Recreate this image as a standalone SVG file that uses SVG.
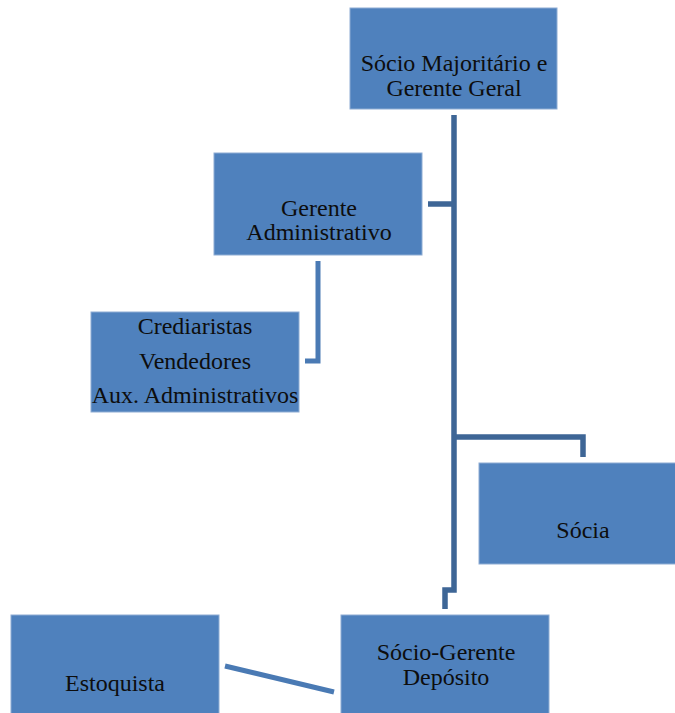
<svg xmlns="http://www.w3.org/2000/svg" width="675" height="713" viewBox="0 0 675 713">
<style>
.box{fill:#4F81BD;stroke:#8EACD3;stroke-width:1}
.t{font-family:'Liberation Serif',serif;font-size:24px;fill:#0d0d0d;text-anchor:middle}
.c1{fill:none;stroke:#3E6696;stroke-width:5.5;stroke-linejoin:miter}
.c2{fill:none;stroke:#4A7AB4;stroke-width:5}
</style>
<rect width="675" height="713" fill="#fff"/>
<g id="connectors">
<path class="c1" d="M454 115 V590 H445 V609"/>
<path class="c1" d="M428 204 H454"/>
<path class="c1" d="M454 437 H583 V457"/>
<path class="c2" d="M318 261 V361 H305"/>
<path class="c2" d="M225 666 L334 692"/>
</g>
<g id="n-socio-majoritario">
<rect class="box" x="350" y="8" width="207" height="101"/>
<text class="t" x="454" y="71">Sócio Majoritário e</text>
<text class="t" x="454" y="96">Gerente Geral</text>
</g>
<g id="n-gerente-administrativo">
<rect class="box" x="214" y="153" width="208" height="102"/>
<text class="t" x="319" y="216">Gerente</text>
<text class="t" x="319" y="240">Administrativo</text>
</g>
<g id="n-equipe-administrativa">
<rect class="box" x="91" y="312" width="208" height="100"/>
<text class="t" x="195" y="334">Crediaristas</text>
<text class="t" x="195" y="369">Vendedores</text>
<text class="t" x="195" y="403">Aux. Administrativos</text>
</g>
<g id="n-socia">
<rect class="box" x="479" y="463" width="208" height="101"/>
<text class="t" x="583" y="538">Sócia</text>
</g>
<g id="n-socio-gerente-deposito">
<rect class="box" x="341" y="615" width="208" height="101"/>
<text class="t" x="446" y="660">Sócio-Gerente</text>
<text class="t" x="446" y="685">Depósito</text>
</g>
<g id="n-estoquista">
<rect class="box" x="11" y="615" width="208" height="101"/>
<text class="t" x="115" y="691">Estoquista</text>
</g>
</svg>
